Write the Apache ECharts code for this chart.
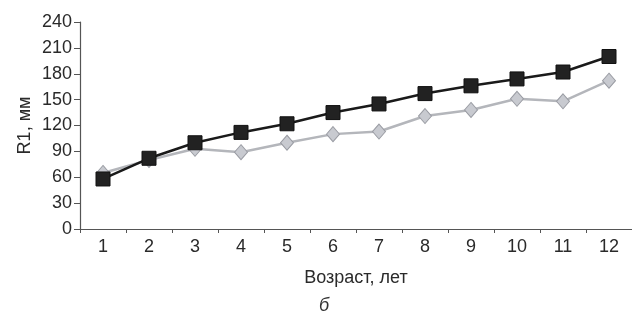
<!DOCTYPE html>
<html><head><meta charset="utf-8">
<script src="https://cdn.jsdelivr.net/npm/echarts@6/dist/echarts.min.js"></script>
<style>html,body{margin:0;padding:0;background:#fff}#c{width:632px;height:321px}</style>
</head><body><div id="c"></div>
<script>
var categories = ['1','2','3','4','5','6','7','8','9','10','11','12'];
var seriesBlack = [58, 82, 100, 112, 122, 135, 145, 157, 166, 174, 182, 200];
var seriesGray = [65, 80, 93, 89, 100, 110, 113, 131, 138, 151, 148, 172];
var yTicks = [0, 30, 60, 90, 120, 150, 180, 210, 240];
var xName = 'Возраст, лет';
var yName = 'R1, мм';
var subtitle = 'б';

var chart = echarts.init(document.getElementById('c'), null, {renderer: 'canvas'});
var font = 'Liberation Sans, Arial, sans-serif';
chart.setOption({
  animation: false,
  backgroundColor: '#fff',
  grid: {left: 80, top: 22, width: 553, height: 207},
  title: {text: subtitle, left: 314, top: 292, textStyle: {fontFamily: font, fontStyle: 'italic', fontWeight: 'normal', fontSize: 18, color: '#333'}},
  xAxis: {
    type: 'category', data: categories, boundaryGap: true,
    name: xName, nameLocation: 'middle', nameGap: 40,
    nameTextStyle: {fontFamily: font, fontSize: 18, color: '#2a2a2a'},
    axisLine: {lineStyle: {color: '#555', width: 1.2}},
    axisTick: {show: true, inside: false, length: 4, lineStyle: {color: '#555'}},
    axisLabel: {fontFamily: font, fontSize: 18, color: '#2a2a2a', margin: 9}
  },
  yAxis: {
    type: 'value', min: 0, max: 240, interval: 30,
    name: yName, nameLocation: 'middle', nameGap: 46, nameRotate: 90, nameMoveOverlap: false,
    nameTextStyle: {fontFamily: font, fontSize: 18, color: '#2a2a2a'},
    axisLine: {show: true, lineStyle: {color: '#555', width: 1.2}},
    axisTick: {show: true, length: 6, lineStyle: {color: '#555'}},
    splitLine: {show: false},
    axisLabel: {fontFamily: font, fontSize: 18, color: '#2a2a2a', margin: 8,
      formatter: function(v){ return yTicks.indexOf(v) >= 0 ? String(v) : ''; }}
  },
  series: [
    {
      type: 'line', data: seriesGray, symbol: 'diamond', symbolSize: [13, 15],
      lineStyle: {color: '#b4b6bb', width: 2.5},
      itemStyle: {color: '#c8cad0', borderColor: '#9a9ca3', borderWidth: 1},
      z: 2
    },
    {
      type: 'line', data: seriesBlack, symbol: 'rect', symbolSize: 14,
      lineStyle: {color: '#1a1a1a', width: 2.5},
      itemStyle: {color: '#222', borderColor: '#111', borderWidth: 1},
      z: 3
    }
  ]
});
</script></body></html>
